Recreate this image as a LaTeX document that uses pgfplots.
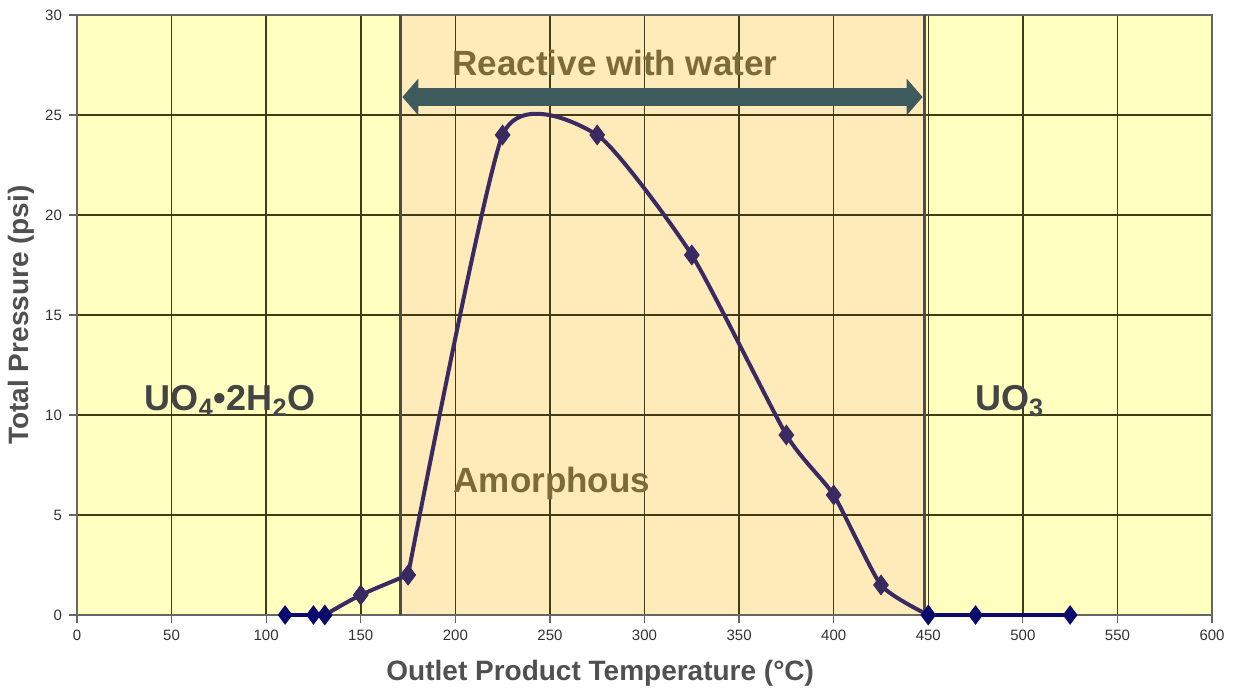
\documentclass[border=0pt]{standalone}
\usepackage{pgfplots}
\pgfplotsset{compat=1.18}
\usepackage{fontspec}
\setmainfont{Liberation Sans}
\usetikzlibrary{arrows.meta}
\definecolor{bgyellow}{RGB}{255,255,192}
\definecolor{bgamorph}{RGB}{255,235,185}
\definecolor{gridc}{RGB}{65,60,20}
\definecolor{curvec}{RGB}{58,42,98}
\definecolor{navyc}{RGB}{10,10,110}
\definecolor{olivet}{RGB}{123,106,58}
\definecolor{arrowc}{RGB}{63,90,92}
\definecolor{labelc}{RGB}{80,80,80}
\definecolor{tickc}{RGB}{50,50,50}
\begin{document}
\begin{tikzpicture}
\begin{axis}[
  name=ax,
  set layers,
  scale only axis,
  width=567.5pt, height=300pt,
  xmin=0, xmax=600, ymin=0, ymax=30,
  xtick={0,50,...,600}, ytick={0,5,...,30},
  grid=major,
  major grid style={gridc, line width=0.75pt},
  axis line style={gray!80!black, line width=0.8pt},
  tick style={gray!80!black, line width=0.6pt},
  tick align=outside,
  major tick length=4pt,
  xtick pos=bottom, ytick pos=left,
  ticklabel style={font=\fontsize{7.5}{9}\selectfont, text=tickc},
  /pgf/number format/assume math mode=true,
  xlabel={Outlet Product Temperature (°C)},
  ylabel={Total Pressure (psi)},
  xlabel style={font=\fontsize{14}{16}\selectfont\bfseries, text=labelc, at={(axis description cs:0.461,-0.097)}, anchor=center},
  ylabel style={font=\fontsize{14}{16}\selectfont\bfseries, text=labelc, at={(axis description cs:-0.049,0.5)}, anchor=center},
  clip=false,
]
\begin{pgfonlayer}{axis background}
\fill[bgyellow] (axis cs:0,0) rectangle (axis cs:600,30);
\fill[bgamorph] (axis cs:171,0) rectangle (axis cs:448,30);
\end{pgfonlayer}
\draw[gray!60!black, line width=1.2pt] (axis cs:171,0) -- (axis cs:171,30);
\draw[gray!60!black, line width=1.2pt] (axis cs:448,0) -- (axis cs:448,30);

\addplot[curvec, line width=2pt, smooth, tension=0.5, mark=diamond*, mark size=3.6pt, mark options={fill=curvec, draw=curvec}]
coordinates {(131,0) (150,1) (175,2)};
\addplot[curvec, line width=2pt, smooth, tension=0.34, mark=diamond*, mark size=3.6pt, mark options={fill=curvec, draw=curvec}]
coordinates {(175,2) (225,24) (275,24) (325,18) (375,9) (400,6) (425,1.5) (450,0)};
\addplot[navyc, line width=1.6pt, mark=diamond*, mark size=3.6pt, mark options={fill=navyc, draw=navyc}]
coordinates {(110,0) (125,0) (131,0)};
\addplot[navyc, line width=1.6pt, smooth, mark=diamond*, mark size=3.6pt, mark options={fill=navyc, draw=navyc}]
coordinates {(450,0) (475,0) (525,0)};

\draw[arrowc, line width=9pt, {Triangle[length=8pt,width=18pt]}-{Triangle[length=8pt,width=18pt]}] (axis cs:172,25.9) -- (axis cs:447,25.9);

\node[text=olivet, font=\fontsize{17.5}{20}\selectfont\bfseries] at (axis cs:284.4,27.6) {Reactive with water};
\node[text=olivet, font=\fontsize{17.5}{20}\selectfont\bfseries] at (axis cs:251,6.6) {Amorphous};
\node[text=labelc!85!black, font=\fontsize{18}{20}\selectfont\bfseries] at (axis cs:81,10.7) {UO\textsubscript{4}•2H\textsubscript{2}O};
\node[text=labelc!85!black, font=\fontsize{18}{20}\selectfont\bfseries] at (axis cs:493,10.7) {UO\textsubscript{3}};
\end{axis}
\pgfresetboundingbox
\path[use as bounding box] ([shift={(-38.5pt,-36.5pt)}]ax.south west) rectangle ([shift={(578.5pt,307.5pt)}]ax.south west);
\end{tikzpicture}
\end{document}
